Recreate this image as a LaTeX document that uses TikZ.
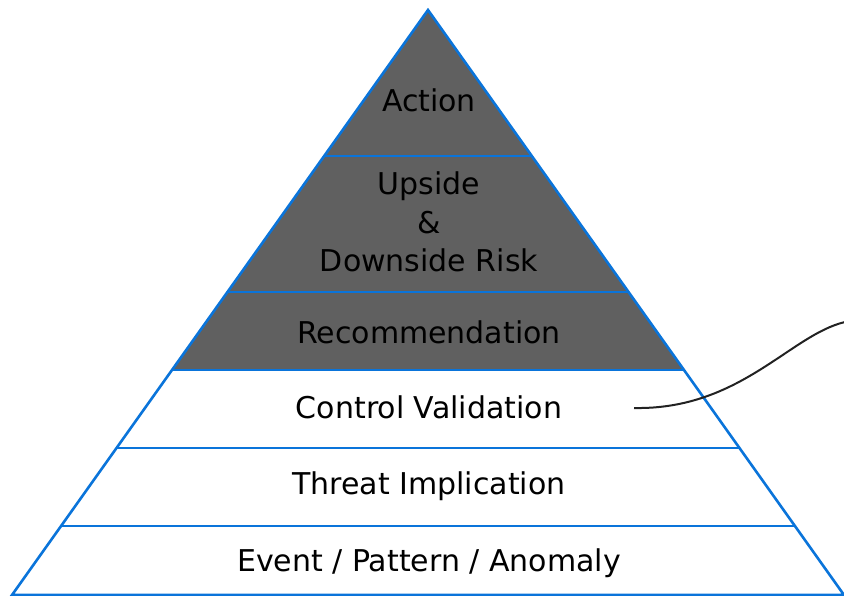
\documentclass[tikz,border=0pt]{standalone}
\usepackage{fontspec}
\setmainfont{DejaVu Sans}
\definecolor{pyrblue}{HTML}{0A74DA}
\definecolor{pyrgray}{HTML}{606060}
\definecolor{curvecol}{HTML}{222222}
\begin{document}
\begin{tikzpicture}[x=1pt,y=-1pt,
  lbl/.style={font=\fontsize{30}{38.5}\selectfont, align=center, text=black, inner sep=0pt, anchor=base},
  edge/.style={draw=pyrblue, line width=2.6pt},
  tail/.style={draw=curvecol, line width=2pt}]
\useasboundingbox (0,0) rectangle (844,596);
\coordinate (apex) at (428,10);
\coordinate (bl) at (12,595);
\coordinate (br) at (844,595);
% dark top part
\fill[pyrgray] (apex) -- (172,370) -- (684,370) -- cycle;
% layer lines
\draw[edge] (324.2,156) -- (531.8,156);
\draw[edge] (227.5,292) -- (628.5,292);
\draw[edge] (172,370) -- (684,370);
\draw[edge] (116.5,448) -- (739.5,448);
\draw[edge] (61.1,526) -- (794.9,526);
% outline
\draw[edge, line join=miter] (apex) -- (bl) -- (br) -- cycle;
% labels
\node[lbl] (action) at (429,112) {Action};
\node[lbl] (upside) at (429,195) {Upside};
\node[lbl] (amp) at (429,234) {\&};
\node[lbl] (down) at (429,272) {Downside Risk};
\node[lbl] (reco) at (429,343) {Recommendation};
\node[lbl] (cv) at (429,418) {Control Validation};
\node[lbl] (threat) at (429,494) {Threat Implication};
\node[lbl] (event) at (429,571) {Event / Pattern / Anomaly};
% connector
\coordinate (cvtail) at (634,408);
\coordinate (cvend) at (845,322);
\draw[tail] (cvtail) .. controls (740,410) and (790,335) .. (cvend);
\end{tikzpicture}
\end{document}
